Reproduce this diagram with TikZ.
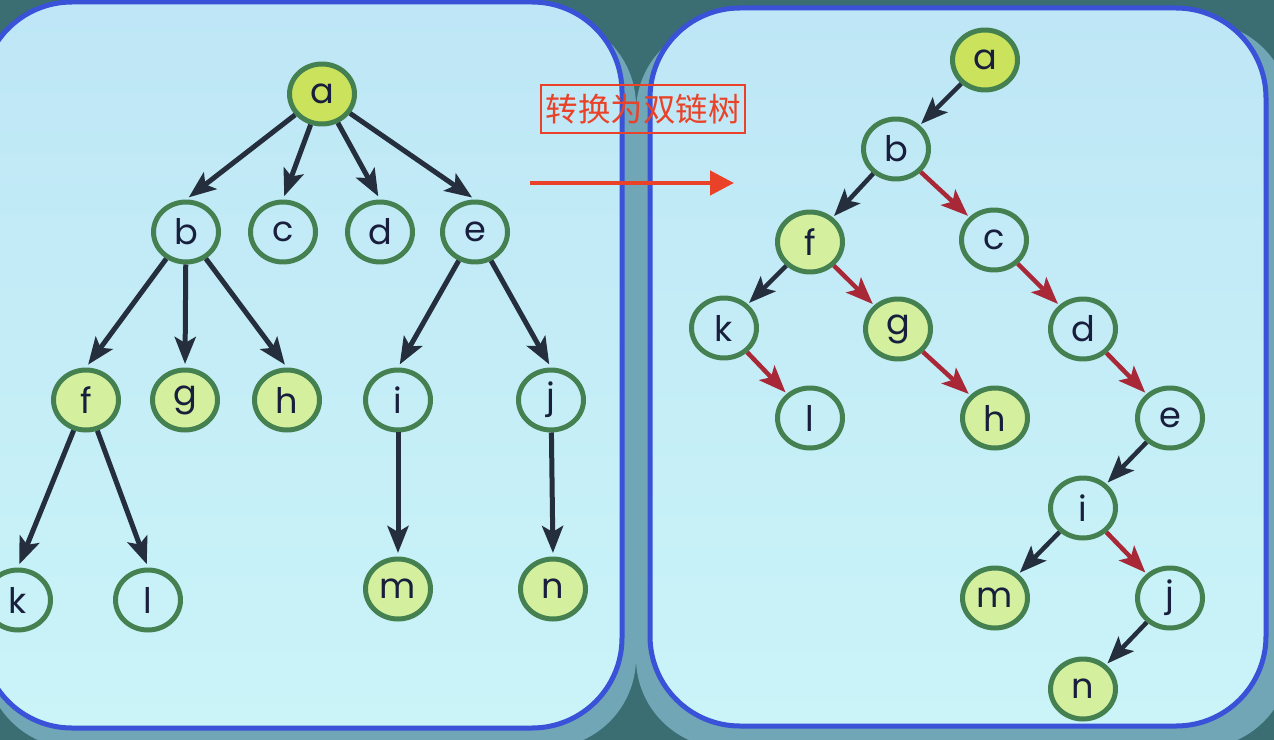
\documentclass[tikz,border=0pt]{standalone}
\usepackage{fontspec}
\setmainfont{Poppins}
\newfontfamily\cjk{Noto Sans CJK SC}
\usetikzlibrary{arrows.meta,shapes.geometric}
\definecolor{bgc}{RGB}{58,110,114}
\definecolor{shadc}{RGB}{112,166,182}
\definecolor{panelborder}{RGB}{58,82,216}
\definecolor{paneltop}{RGB}{190,230,246}
\definecolor{panelbot}{RGB}{202,244,248}
\definecolor{ringc}{RGB}{68,128,80}
\definecolor{rootc}{RGB}{202,226,92}
\definecolor{leafc}{RGB}{212,240,158}
\definecolor{txtc}{RGB}{24,30,60}
\definecolor{darkarr}{RGB}{36,46,60}
\definecolor{redarr}{RGB}{168,40,56}
\definecolor{labred}{RGB}{234,66,40}
\begin{document}
\begin{tikzpicture}[x=0.02cm,y=-0.02cm,
  tn/.style={ellipse, draw=ringc, line width=0.1cm, minimum width=1.3cm, minimum height=1.2cm, inner sep=0pt, text=txtc, font=\fontsize{20}{24}\selectfont},
  rootn/.style={tn, fill=rootc},
  leafn/.style={tn, fill=leafc},
  tipst/.style={-{Stealth[length=0.54cm, width=0.42cm, inset=0.12cm]}},
  barr/.style={draw=darkarr, line width=0.1cm, tipst, shorten >=2pt},
  rbarr/.style={draw=darkarr, line width=0.09cm, tipst, shorten >=1pt},
  rarr/.style={draw=redarr, line width=0.09cm, tipst, shorten >=1pt},
  panel/.style={draw=panelborder, line width=0.1cm, rounded corners=1.8cm, top color=paneltop, bottom color=panelbot},
  shad/.style={fill=shadc, rounded corners=1.8cm}
]
\useasboundingbox (0,0) rectangle (1274,740);
\fill[bgc] (0,0) rectangle (1274,740);
% shadows
\fill[shad] (-15,16) rectangle (636,748);
\fill[shad] (636,22) rectangle (1290,748);
% panels
\path[panel] (-18,2) rectangle (622,728);
\path[panel] (650,8) rectangle (1266,726);

% ---------- left tree ----------
\node[rootn] (La) at (322,94) {a};
\node[tn] (Lb) at (186,232) {b};
\node[tn] (Lc) at (283,232) {c};
\node[tn] (Ld) at (380,232) {d};
\node[tn] (Le) at (475,232) {e};
\node[leafn] (Lf) at (86,400) {f};
\node[leafn] (Lg) at (185,400) {g};
\node[leafn] (Lh) at (287,400) {h};
\node[tn] (Li) at (398,400) {i};
\node[tn] (Lj) at (551,400) {j};
\node[tn] (Lk) at (18,600) {k};
\node[tn] (Ll) at (148,600) {l};
\node[leafn] (Lm) at (398,589) {m};
\node[leafn] (Ln) at (553,589) {n};

\draw[barr] (La) -- (Lb.north);
\draw[barr] (La) -- (Lc.north);
\draw[barr] (La) -- (Ld.north);
\draw[barr] (La) -- (Le.north);
\draw[barr] (Lb) -- (Lf.north);
\draw[barr] (Lb) -- (Lg.north);
\draw[barr] (Lb) -- (Lh.north);
\draw[barr] (Le) -- (Li.north);
\draw[barr] (Le) -- (Lj.north);
\draw[barr] (Lf) -- (Lk.north);
\draw[barr] (Lf) -- (Ll.north);
\draw[barr] (Li) -- (Lm.north);
\draw[barr] (Lj) -- (Ln.north);

% ---------- right tree ----------
\node[rootn] (Ra) at (985,60) {a};
\node[tn] (Rb) at (896,149) {b};
\node[leafn] (Rf) at (810,242) {f};
\node[tn] (Rc) at (994,240) {c};
\node[tn] (Rk) at (724,328) {k};
\node[leafn] (Rg) at (898,329) {g};
\node[tn] (Rd) at (1083,329) {d};
\node[tn] (Rl) at (810,418) {l};
\node[leafn] (Rh) at (995,418) {h};
\node[tn] (Re) at (1170,418) {e};
\node[tn] (Ri) at (1083,508) {i};
\node[leafn] (Rm) at (995,598) {m};
\node[tn] (Rj) at (1170,598) {j};
\node[leafn] (Rn) at (1083,689) {n};

\draw[rbarr] (Ra) -- (Rb);
\draw[rbarr] (Rb) -- (Rf);
\draw[rarr] (Rb) -- (Rc);
\draw[rbarr] (Rf) -- (Rk);
\draw[rarr] (Rf) -- (Rg);
\draw[rarr] (Rc) -- (Rd);
\draw[rarr] (Rk) -- (Rl);
\draw[rarr] (Rg) -- (Rh);
\draw[rarr] (Rd) -- (Re);
\draw[rbarr] (Re) -- (Ri);
\draw[rbarr] (Ri) -- (Rm);
\draw[rarr] (Ri) -- (Rj);
\draw[rbarr] (Rj) -- (Rn);

% ---------- label and arrow ----------
\node[draw=labred, line width=0.04cm, text=labred, inner sep=0pt,
      minimum width=4.1cm, minimum height=0.96cm,
      font=\cjk\fontsize{18.5}{20}\selectfont] (lbl) at (643,109) {转换为双链树};
\coordinate (as) at (530,183);
\coordinate (ae) at (734,183);
\draw[labred, line width=0.09cm, -{Triangle[length=0.48cm, width=0.48cm]}] (as) -- (ae);
\end{tikzpicture}
\end{document}
